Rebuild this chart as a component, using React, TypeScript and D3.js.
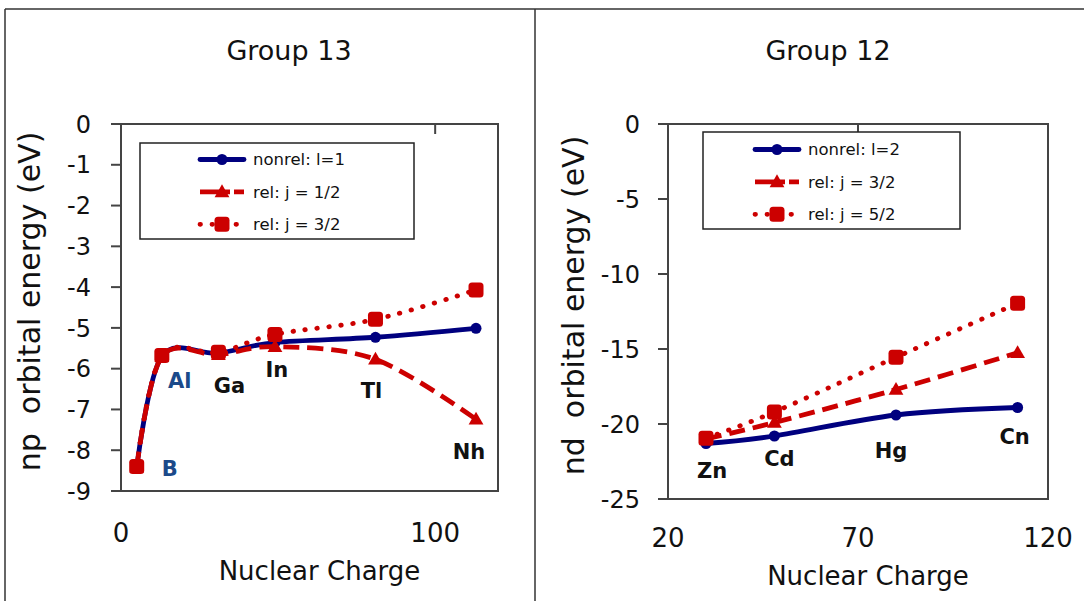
import * as d3 from "d3";
import React from "react";

const FONT = "'DejaVu Sans', Verdana, Arial, sans-serif";
const BLUE = "#00007f";
const RED = "#cc0000";
const LABEL_BLUE = "#1b4a8a";

// Group 13: np orbital energies (eV)
const g13Elements = ["B", "Al", "Ga", "In", "Tl", "Nh"];
const g13Charge = [5, 13, 31, 49, 81, 113];
const g13Nonrel = [-8.42, -5.7, -5.62, -5.36, -5.23, -5.01];
const g13RelHalf = [-8.42, -5.7, -5.66, -5.46, -5.77, -7.24];
const g13RelThreeHalf = [-8.4, -5.68, -5.6, -5.16, -4.79, -4.07];
const g13XTicks = [0, 100];
const g13YTicks = [0, -1, -2, -3, -4, -5, -6, -7, -8, -9];
const g13LegendNames = ["nonrel: l=1", "rel: j = 1/2", "rel: j = 3/2"];

// Group 12: nd orbital energies (eV)
const g12Elements = ["Zn", "Cd", "Hg", "Cn"];
const g12Charge = [30, 48, 80, 112];
const g12Nonrel = [-21.3, -20.8, -19.4, -18.9];
const g12RelThreeHalf = [-21.0, -19.9, -17.7, -15.25];
const g12RelFiveHalf = [-20.95, -19.2, -15.55, -11.95];
const g12XTicks = [20, 70, 120];
const g12YTicks = [0, -5, -10, -15, -20, -25];
const g12LegendNames = ["nonrel: l=2", "rel: j = 3/2", "rel: j = 5/2"];

type MarkerKind = "circle" | "triangle" | "square";

type Series = {
  name: string;
  values: number[];
  color: string;
  dash: string | null;
  cap: "butt" | "round";
  marker: MarkerKind;
};

type PanelConfig = {
  title: string;
  titleX: number;
  yTitle: string;
  yTitleX: number;
  left: number;
  right: number;
  top: number;
  bottom: number;
  xDomain: [number, number];
  yDomain: [number, number];
  xTicks: number[];
  yTicks: number[];
  xLabelY: number;
  yLabelGap: number;
  charge: number[];
  elements: string[];
  labelOffsets: [number, number][];
  labelColors: string[];
  series: Series[];
  legend: { x: number; y: number; w: number; h: number; row0: number; lineX: number };
};

const makeSeries = (names: string[], values: number[][]): Series[] => [
  { name: names[0], values: values[0], color: BLUE, dash: null, cap: "round", marker: "circle" },
  { name: names[1], values: values[1], color: RED, dash: "16 8", cap: "butt", marker: "triangle" },
  { name: names[2], values: values[2], color: RED, dash: "0.5 11.5", cap: "round", marker: "square" },
];

const triangle = d3.symbol(d3.symbolTriangle, 95)() as string;

const Marker = ({ kind, cx, cy, color }: { kind: MarkerKind; cx: number; cy: number; color: string }) => {
  if (kind === "circle") return <circle cx={cx} cy={cy} r={5.5} fill={color} />;
  if (kind === "triangle")
    return <path d={triangle} transform={`translate(${cx},${cy + 1})`} fill={color} />;
  return <rect x={cx - 7.5} y={cy - 7.5} width={15} height={15} rx={3.5} fill={color} />;
};

const Panel = ({ cfg }: { cfg: PanelConfig }) => {
  const x = d3.scaleLinear().domain(cfg.xDomain).range([cfg.left, cfg.right]);
  const y = d3.scaleLinear().domain(cfg.yDomain).range([cfg.bottom, cfg.top]);
  const line = d3
    .line<[number, number]>()
    .x((d) => x(d[0]))
    .y((d) => y(d[1]))
    .curve(d3.curveCatmullRom.alpha(0));

  const lg = cfg.legend;

  return (
    <g fontFamily={FONT}>
      <text x={cfg.titleX} y={60} textAnchor="middle" fontSize={27} fill="#111">
        {cfg.title}
      </text>

      {/* plot area */}
      <rect
        x={cfg.left}
        y={cfg.top}
        width={cfg.right - cfg.left}
        height={cfg.bottom - cfg.top}
        fill="none"
        stroke="#444"
        strokeWidth={2}
      />
      {cfg.yTicks.map((t) => (
        <g key={`y${t}`}>
          <line x1={cfg.left - 10} x2={cfg.left} y1={y(t)} y2={y(t)} stroke="#444" strokeWidth={2} />
          <text
            x={cfg.left - cfg.yLabelGap}
            y={y(t)}
            dy="0.36em"
            textAnchor="end"
            fontSize={24}
            fill="#111"
          >
            {t}
          </text>
        </g>
      ))}
      {cfg.xTicks.map((t) => (
        <g key={`x${t}`}>
          {t !== cfg.xDomain[0] && t !== cfg.xDomain[1] && (
            <line x1={x(t)} x2={x(t)} y1={cfg.top} y2={cfg.top + 10} stroke="#444" strokeWidth={2} />
          )}
          <text x={x(t)} y={cfg.xLabelY} textAnchor="middle" fontSize={26} fill="#111">
            {t}
          </text>
        </g>
      ))}
      <text
        x={(cfg.left + cfg.right) / 2 + 10}
        y={cfg.xLabelY + 38}
        textAnchor="middle"
        fontSize={26}
        fill="#111"
      >
        Nuclear Charge
      </text>
      <text
        transform={`translate(${cfg.yTitleX},${(cfg.top + cfg.bottom) / 2 - 6}) rotate(-90)`}
        textAnchor="middle"
        fontSize={30}
        fill="#111"
        xmlSpace="preserve"
      >
        {cfg.yTitle}
      </text>

      {/* series */}
      {cfg.series.map((s) => {
        const pts = cfg.charge.map((c, i) => [c, s.values[i]] as [number, number]);
        return (
          <g key={s.name}>
            <path
              d={line(pts) ?? ""}
              fill="none"
              stroke={s.color}
              strokeWidth={4.8}
              strokeDasharray={s.dash ?? undefined}
              strokeLinecap={s.cap}
            />
            {pts.map((p, i) => (
              <Marker key={i} kind={s.marker} cx={x(p[0])} cy={y(p[1])} color={s.color} />
            ))}
          </g>
        );
      })}

      {/* element labels */}
      {cfg.elements.map((el, i) => (
        <text
          key={el}
          x={x(cfg.charge[i]) + cfg.labelOffsets[i][0]}
          y={y(cfg.series[0].values[i]) + cfg.labelOffsets[i][1] + 7.5}
          textAnchor="middle"
          fontSize={21}
          fontWeight="bold"
          fill={cfg.labelColors[i]}
        >
          {el}
        </text>
      ))}

      {/* legend */}
      <rect x={lg.x} y={lg.y} width={lg.w} height={lg.h} fill="white" stroke="#222" strokeWidth={1.5} />
      {cfg.series.map((s, i) => {
        const ry = lg.row0 + i * 32.4;
        return (
          <g key={`lg${s.name}`}>
            <line
              x1={lg.lineX}
              x2={lg.lineX + 44}
              y1={ry}
              y2={ry}
              stroke={s.color}
              strokeWidth={4.8}
              strokeDasharray={s.dash ? (s.marker === "square" ? s.dash : "30 4") : undefined}
              strokeLinecap={s.cap}
            />
            <Marker kind={s.marker} cx={lg.lineX + 22} cy={ry} color={s.color} />
            <text x={lg.lineX + 53} y={ry} dy="0.36em" fontSize={16.5} fill="#111">
              {s.name}
            </text>
          </g>
        );
      })}
    </g>
  );
};

const group13: PanelConfig = {
  title: "Group 13",
  titleX: 289,
  yTitle: "np  orbital energy (eV)",
  yTitleX: 40,
  left: 121,
  right: 498,
  top: 124,
  bottom: 491,
  xDomain: [0, 120],
  yDomain: [-9, 0],
  xTicks: g13XTicks,
  yTicks: g13YTicks,
  xLabelY: 542,
  yLabelGap: 30,
  charge: g13Charge,
  elements: g13Elements,
  labelOffsets: [
    [33, 1],
    [18, 24],
    [11, 32],
    [2, 27],
    [-4, 53],
    [-7, 123],
  ],
  labelColors: [LABEL_BLUE, LABEL_BLUE, "#111", "#111", "#111", "#111"],
  series: makeSeries(g13LegendNames, [g13Nonrel, g13RelHalf, g13RelThreeHalf]),
  legend: { x: 140, y: 143, w: 274, h: 96, row0: 159.5, lineX: 200 },
};

const group12: PanelConfig = {
  title: "Group 12",
  titleX: 828,
  yTitle: "nd  orbital energy (eV)",
  yTitleX: 584,
  left: 668,
  right: 1048,
  top: 124,
  bottom: 499,
  xDomain: [20, 120],
  yDomain: [-25, 0],
  xTicks: g12XTicks,
  yTicks: g12YTicks,
  xLabelY: 547,
  yLabelGap: 28,
  charge: g12Charge,
  elements: g12Elements,
  labelOffsets: [
    [6, 26.5],
    [5, 22.5],
    [-5, 35],
    [-3, 28.5],
  ],
  labelColors: ["#111", "#111", "#111", "#111"],
  series: makeSeries(g12LegendNames, [g12Nonrel, g12RelThreeHalf, g12RelFiveHalf]),
  legend: { x: 703, y: 132, w: 257, h: 97, row0: 149.5, lineX: 755 },
};

export default function App() {
  return (
    <svg
      width={1084}
      height={601}
      style={{ position: "absolute", left: 0, top: 0, background: "white" }}
    >
      <rect width={1084} height={601} fill="white" />
      {/* outer frame */}
      <line x1={5} x2={1084} y1={9} y2={9} stroke="#333" strokeWidth={1.5} />
      <line x1={5} x2={5} y1={9} y2={601} stroke="#333" strokeWidth={1.5} />
      <line x1={535} x2={535} y1={9} y2={601} stroke="#333" strokeWidth={1.5} />
      <Panel cfg={group13} />
      <Panel cfg={group12} />
    </svg>
  );
}
